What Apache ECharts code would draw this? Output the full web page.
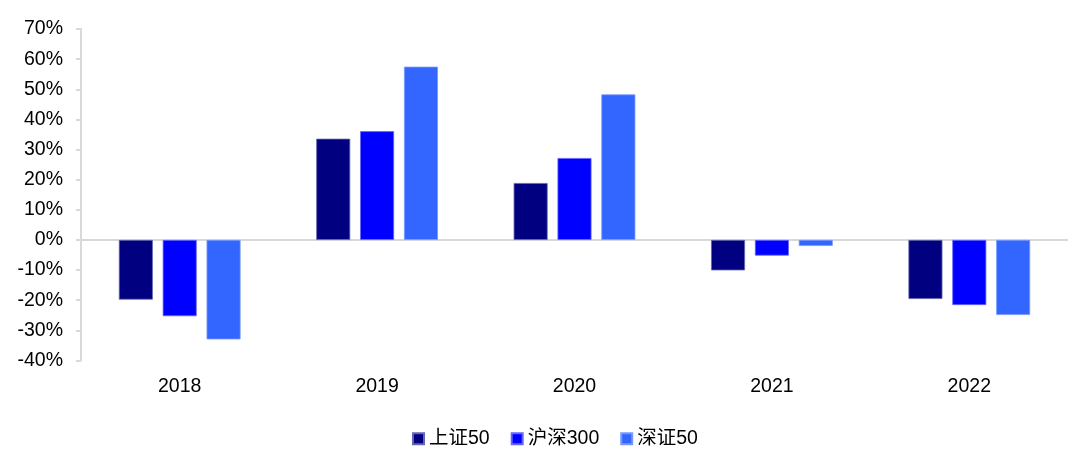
<!DOCTYPE html>
<html>
<head>
<meta charset="utf-8">
<script src="https://cdn.jsdelivr.net/npm/echarts@6/dist/echarts.min.js"></script>
<style>
html,body{margin:0;padding:0;background:#fff;}
#chart{width:1080px;height:456px;}
</style>
</head>
<body>
<div id="chart"></div>
<script>
const categories = ['2018', '2019', '2020', '2021', '2022'];
const seriesNames = ['上证50', '沪深300', '深证50'];
const sz50 = [-19.8, 33.6, 18.9, -10.1, -19.6];
const hs300 = [-25.3, 36.1, 27.2, -5.2, -21.6];
const szse50 = [-33.0, 57.5, 48.3, -2.0, -24.9];
const yTicks = { min: -40, max: 70, interval: 10 };

const colors = ['#000080', '#0000FF', '#3366FF'];
const borders = ['#6666B0', '#6666FF', '#7799FF'];
const FONT = '"Liberation Sans", Arial, "Noto Sans CJK SC", sans-serif';
const values = [sz50, hs300, szse50];

const chart = echarts.init(document.getElementById('chart'), null, { renderer: 'canvas' });
chart.setOption({
  animation: false,
  backgroundColor: '#ffffff',
  grid: { left: 81, right: 12, top: 29, bottom: 95.5 },
  legend: {
    left: 407, top: 424,
    itemWidth: 11, itemHeight: 11, itemGap: 21,
    icon: 'rect',
    textStyle: { fontFamily: FONT, fontSize: 19.5, color: '#000' },
    data: seriesNames
  },
  xAxis: {
    type: 'category',
    data: categories,
    axisLine: { show: false, onZero: false },
    axisTick: { show: false },
    axisLabel: { fontFamily: FONT, fontSize: 19.5, color: '#000', margin: 16 }
  },
  yAxis: {
    type: 'value',
    min: yTicks.min, max: yTicks.max, interval: yTicks.interval,
    axisLine: { show: true, lineStyle: { color: '#d9d9d9', width: 2 } },
    axisTick: { show: true, length: 5, lineStyle: { color: '#d9d9d9', width: 2 } },
    splitLine: { show: false },
    axisLabel: { fontFamily: FONT, fontSize: 19.5, color: '#000', margin: 18, formatter: '{value}%' }
  },
  series: seriesNames.map((name, i) => ({
    name: name,
    type: 'bar',
    data: values[i],
    barWidth: 34,
    barGap: '29%',
    itemStyle: { color: colors[i], borderColor: borders[i], borderWidth: 0.8 },
    markLine: i === 0 ? {
      silent: true,
      symbol: 'none',
      z: 1,
      label: { show: false },
      lineStyle: { color: '#d9d9d9', width: 2, type: 'solid' },
      data: [{ yAxis: 0 }]
    } : undefined
  }))
});
</script>
</body>
</html>
